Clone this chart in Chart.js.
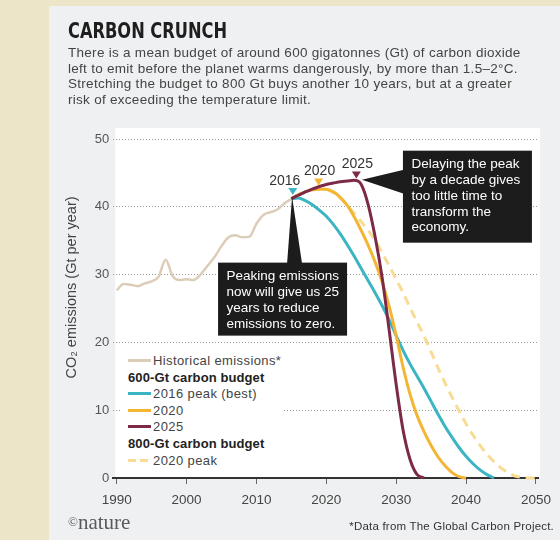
<!DOCTYPE html>
<html>
<head>
<meta charset="utf-8">
<script src="https://cdn.jsdelivr.net/npm/chart.js@4.4.0/dist/chart.umd.min.js"></script>
<style>
  body { margin: 0; }
  #page { position: relative; width: 560px; height: 540px; background: #ece5c7; overflow: hidden;
          font-family: "Liberation Sans", Arial, sans-serif; }
  #panel { position: absolute; left: 49px; top: 6px; right: 0; bottom: 0; background: #eff0f2; }
  #chart { position: absolute; left: 0; top: 0; }
  #title { position: absolute; left: 68px; top: 18px; font-family: "DejaVu Sans Condensed", "DejaVu Sans", sans-serif;
           font-weight: bold; font-size: 22px; line-height: 26px; color: #1e1e1e; transform-origin: 0 0; transform: scaleX(0.82); white-space: nowrap; }
  #subtitle { position: absolute; left: 68px; top: 45px; font-size: 13.5px; letter-spacing: 0.28px; line-height: 15.7px; color: #444; white-space: nowrap; }
  #legend { position: absolute; left: 122px; top: 352px; width: 160px; height: 118px; background: #fff;
            font-size: 13px; letter-spacing: 0.4px; line-height: 16.6px; color: #444; padding-top: 1px; padding-left: 6px; box-sizing: border-box; white-space: nowrap; }
  #legend .head { font-weight: bold; color: #222; letter-spacing: 0.1px; }
  #legend .sw { display: inline-block; width: 23px; height: 3px; vertical-align: middle; margin-right: 2px; position: relative; top: -1px; }
  #logo { position: absolute; left: 68px; top: 510px; font-family: "Liberation Serif", "DejaVu Serif", serif; font-size: 21px; color: #5a5a5a; line-height: 24px; }
  #logo small { font-size: 13px; position: relative; top: -3px; }
  #note { position: absolute; right: 6px; top: 519px; font-size: 11.5px; letter-spacing: 0.2px; line-height: 14px; color: #333; }
</style>
</head>
<body>
<div id="page">
  <div id="panel"></div>
  <canvas id="chart" width="560" height="540"></canvas>
  <div id="title">CARBON CRUNCH</div>
  <div id="subtitle">There is a mean budget of around 600 gigatonnes (Gt) of carbon dioxide<br>left to emit before the planet warms dangerously, by more than 1.5–2°C.<br>Stretching the budget to 800 Gt buys another 10 years, but at a greater<br>risk of exceeding the temperature limit.</div>
  <div id="legend">
    <div><span class="sw" style="background:#dccdb8"></span>Historical emissions*</div>
    <div class="head">600-Gt carbon budget</div>
    <div><span class="sw" style="background:#3bb5c3"></span>2016 peak (best)</div>
    <div><span class="sw" style="background:#f2b534"></span>2020</div>
    <div><span class="sw" style="background:#7d2a48"></span>2025</div>
    <div class="head">800-Gt carbon budget</div>
    <div><span class="sw" style="background:repeating-linear-gradient(90deg,#f8dc93 0 8px,transparent 8px 12px)"></span>2020 peak</div>
  </div>
  <div id="logo"><small>©</small>nature</div>
  <div id="note">*Data from The Global Carbon Project.</div>
</div>
<script>
// axis ticks
const yearTicks = [1990, 2000, 2010, 2020, 2030, 2040, 2050];
const valueTicks = [0, 10, 20, 30, 40, 50];

// historical emissions (Gt CO2 per year)
const histYears = [1990, 1991, 1992, 1993, 1994, 1995, 1996, 1997, 1998, 1999, 2000, 2001, 2002,
  2003, 2004, 2005, 2006, 2007, 2008, 2009, 2010, 2011, 2012, 2013, 2014, 2015];
const histValues = [27.7, 28.6, 28.5, 28.3, 28.7, 29.0, 29.7, 32.2, 29.8, 29.2, 29.3, 29.2, 30.0,
  31.3, 32.6, 34.2, 35.5, 35.8, 35.5, 35.6, 37.5, 38.8, 39.2, 39.6, 40.5, 41.2];

// 600-Gt budget, peak in 2016
const peak2016Years = [2015, 2016, 2017, 2018, 2019, 2020, 2021, 2022, 2023, 2024, 2025, 2026, 2027, 2028, 2029,
  2030, 2031, 2032, 2033, 2034, 2035, 2036, 2037, 2038, 2039, 2040, 2041, 2042, 2043, 2044];
const peak2016Values = [41.2, 41.3, 40.9, 40.3, 39.5, 38.6, 37.4, 36.0, 34.4, 32.7, 30.9, 29.1, 27.3, 25.4, 23.3,
  21.0, 18.8, 16.8, 15.0, 13.2, 11.3, 9.4, 7.6, 6.0, 4.5, 3.2, 2.1, 1.2, 0.5, 0];

// 600-Gt budget, peak in 2020
const peak2020Years = [2015, 2016, 2017, 2018, 2019, 2020, 2021, 2022, 2023, 2024, 2025, 2026, 2027,
  2028, 2029, 2030, 2031, 2032, 2033, 2034, 2035, 2036, 2037, 2038, 2039, 2040];
const peak2020Values = [41.2, 41.8, 42.2, 42.5, 42.6, 42.6, 42.2, 41.4, 40.2, 38.5, 36.5, 34.3, 31.8,
  28.9, 25.3, 21.0, 16.3, 12.3, 9.2, 6.8, 4.8, 3.1, 1.8, 0.8, 0.2, 0];

// 600-Gt budget, peak in 2025
const peak2025Years = [2015, 2016, 2017, 2018, 2019, 2020, 2021, 2022, 2023, 2024, 2025, 2026, 2027,
  2028, 2029, 2030, 2031, 2032, 2033, 2034];
const peak2025Values = [41.2, 41.7, 42.2, 42.6, 43.0, 43.3, 43.5, 43.7, 43.8, 43.9, 43.3, 40.3, 35.5,
  29.5, 21.8, 13.8, 7.0, 2.7, 0.5, 0];

// 800-Gt budget, peak in 2020
const big2020Years = [2020, 2021, 2022, 2023, 2024, 2025, 2026, 2027, 2028, 2029, 2030, 2031, 2032, 2033, 2034,
  2035, 2036, 2037, 2038, 2039, 2040, 2041, 2042, 2043, 2044, 2045, 2046, 2047, 2048, 2049, 2050];
const big2020Values = [42.6, 42.1, 41.3, 40.2, 39.0, 37.8, 36.5, 35.0, 33.2, 31.3, 29.3, 27.3, 25.1, 23.0, 20.9,
  18.6, 16.2, 14.0, 11.9, 9.9, 8.0, 6.3, 4.8, 3.5, 2.4, 1.5, 0.8, 0.3, 0.1, 0, 0];

const COLORS = {
  hist: '#dccdb8',
  p2016: '#3bb5c3',
  p2020: '#f2b534',
  p2025: '#7d2a48',
  big2020: '#f8dc93'
};

// peak markers above the curves
const peakMarkers = [
  { label: '2016', x: 2015.2, y: 42.2, dx: -8, color: COLORS.p2016 },
  { label: '2020', x: 2018.9, y: 43.6, dx: 1, color: COLORS.p2020 },
  { label: '2025', x: 2024.3, y: 44.6, dx: 1, color: COLORS.p2025 }
];

// black call-out boxes, anchored at the point their pointer touches
const callouts = [
  { x: 2025.1, y: 44.0, lines: ['Delaying the peak', 'by a decade gives', 'too little time to', 'transform the', 'economy.'],
    side: 'right' },
  { x: 2015.1, y: 41.5, lines: ['Peaking emissions', 'now will give us 25', 'years to reduce', 'emissions to zero.'],
    side: 'below' }
];

const toPoints = (xs, ys) => xs.map((x, i) => ({ x: x, y: ys[i] }));

const FONT = '"Liberation Sans", Arial, sans-serif';

const annotationPlugin = {
  id: 'annotations',
  beforeDraw(chart) {
    const { ctx, chartArea: a } = chart;
    ctx.save();
    ctx.fillStyle = '#ffffff';
    ctx.fillRect(a.left + 2, a.top - 11, a.right - a.left, a.bottom - a.top + 11);
    ctx.restore();
  },
  afterDatasetsDraw(chart) {
    const { ctx, scales: { x, y } } = chart;
    ctx.save();

    // peak markers + year labels
    peakMarkers.forEach(m => {
      const px = x.getPixelForValue(m.x);
      const py = y.getPixelForValue(m.y);
      ctx.fillStyle = m.color;
      ctx.beginPath();
      ctx.moveTo(px - 4.5, py - 4);
      ctx.lineTo(px + 4.5, py - 4);
      ctx.lineTo(px, py + 3);
      ctx.closePath();
      ctx.fill();
      ctx.fillStyle = '#333';
      ctx.font = '14px ' + FONT;
      ctx.textAlign = 'center';
      ctx.textBaseline = 'middle';
      ctx.fillText(m.label, px + m.dx, py - 11);
    });

    // call-outs
    callouts.forEach(c => {
      const tx = x.getPixelForValue(c.x);
      const ty = y.getPixelForValue(c.y);
      let bx, by, bw, bh;
      ctx.fillStyle = '#1c1c1c';
      ctx.beginPath();
      if (c.side === 'right') {
        bx = tx + 41; by = ty - 29; bw = 129; bh = 92;
        ctx.moveTo(tx, ty);
        ctx.lineTo(bx + 1, ty - 10);
        ctx.lineTo(bx + 1, ty + 14);
      } else {
        bx = tx - 74; by = ty + 66; bw = 129; bh = 73;
        ctx.moveTo(tx, ty);
        ctx.lineTo(tx - 5, by + 1);
        ctx.lineTo(tx + 10, by + 1);
      }
      ctx.closePath();
      ctx.fill();
      ctx.fillRect(bx, by, bw, bh);
      ctx.fillStyle = '#ffffff';
      ctx.font = '13.5px ' + FONT;
      ctx.textAlign = 'left';
      ctx.textBaseline = 'middle';
      c.lines.forEach((t, i) => ctx.fillText(t, bx + 8.5, by + 13.5 + i * 15.9));
    });
    ctx.restore();
  },
  afterDraw(chart) {
    const { ctx, chartArea: a } = chart;
    ctx.save();
    ctx.translate(a.left - 41, (a.top + a.bottom) / 2 - 21);
    ctx.rotate(-Math.PI / 2);
    ctx.fillStyle = '#444';
    ctx.font = '14.5px ' + FONT;
    ctx.textAlign = 'center';
    ctx.textBaseline = 'middle';
    ctx.fillText('CO\u2082 emissions (Gt per year)', 0, 0);
    ctx.restore();
  }
};

const lineStyle = (color, extra) => Object.assign({
  borderColor: color,
  backgroundColor: color,
  borderWidth: 3,
  pointRadius: 0,
  fill: false,
  cubicInterpolationMode: 'monotone',
  clip: 4
}, extra || {});

new Chart(document.getElementById('chart'), {
  type: 'line',
  data: {
    datasets: [
      lineStyle(COLORS.p2025, { label: '2025', data: toPoints(peak2025Years, peak2025Values) }),
      lineStyle(COLORS.p2020, { label: '2020', data: toPoints(peak2020Years, peak2020Values) }),
      lineStyle(COLORS.p2016, { label: '2016 peak (best)', data: toPoints(peak2016Years, peak2016Values) }),
      lineStyle(COLORS.big2020, { label: '2020 peak', data: toPoints(big2020Years, big2020Values), borderDash: [9, 6] }),
      lineStyle(COLORS.hist, { label: 'Historical emissions*', data: toPoints(histYears, histValues), borderWidth: 2.5 })
    ]
  },
  options: {
    responsive: false,
    animation: false,
    layout: { padding: { left: 53.2, right: 22, top: 139, bottom: 22 } },
    plugins: { legend: { display: false }, tooltip: { enabled: false } },
    scales: {
      x: {
        type: 'linear',
        min: 1989.5,
        max: 2050.3,
        afterFit: s => { s.height = 40; },
        afterBuildTicks: s => { s.ticks = yearTicks.map(v => ({ value: v })); },
        ticks: { color: '#444', font: { family: FONT, size: 13.5 }, padding: 8, maxRotation: 0, autoSkip: false,
                 callback: v => String(v) },
        grid: { drawOnChartArea: false, drawTicks: true, tickLength: 6, tickColor: '#666', tickWidth: 1 },
        border: { display: true, color: '#333', width: 2 }
      },
      y: {
        min: 0,
        max: 50,
        afterFit: s => { s.width = 60; },
        afterBuildTicks: s => { s.ticks = valueTicks.map(v => ({ value: v })); },
        ticks: { color: '#555', font: { family: FONT, size: 13 }, padding: 4 },
        grid: {
          drawTicks: false,
          lineWidth: 1,
          color: c => (c.tick && c.tick.value === 0) ? 'rgba(0,0,0,0)' : '#9a9a9a'
        },
        border: { display: false, dash: [1, 2] }
      }
    }
  },
  plugins: [annotationPlugin]
});
</script>
</body>
</html>
